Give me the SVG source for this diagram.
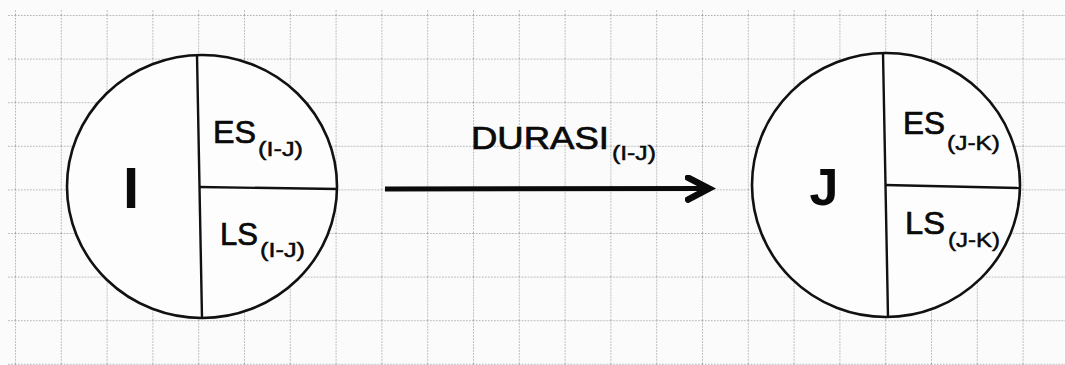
<svg xmlns="http://www.w3.org/2000/svg" width="1065" height="365" viewBox="0 0 1065 365">
<style>
.node-shape{fill:#fdfdfd;stroke:#111;stroke-width:2.6}
.div{stroke:#111;stroke-width:2.4;fill:none}
.lbl{font-family:"Liberation Sans",Arial,sans-serif;fill:#0a0a0a;stroke:#0a0a0a;stroke-width:0.7}
.big{font-size:58px;font-weight:bold;stroke-width:0}
.main{font-size:31px}
.sub{font-size:21px;stroke-width:0.5}
.conn{stroke:#0a0a0a;stroke-width:5;fill:none}
</style>
<defs>
<pattern id="grid" patternUnits="userSpaceOnUse" x="15" y="15" width="45.8" height="43.6">
<line x1="0.5" y1="0" x2="0.5" y2="43.6" stroke="#adadad" stroke-width="1" stroke-dasharray="1.5 1.5"/>
<line x1="0" y1="0.5" x2="45.8" y2="0.5" stroke="#adadad" stroke-width="1" stroke-dasharray="1.5 1.5"/>
</pattern>
<marker id="arrow" markerUnits="userSpaceOnUse" markerWidth="40" markerHeight="40" refX="24" refY="14" orient="auto">
<polyline points="3,3 24,14 3,25" fill="none" stroke="#0a0a0a" stroke-width="6.5" stroke-linecap="round" stroke-linejoin="miter"/>
</marker>
</defs>
<rect x="0" y="0" width="1065" height="365" fill="#fbfbfb"/>
<rect x="7" y="10" width="1058" height="355" fill="url(#grid)"/>

<g id="connectors">
<line class="conn" x1="385" y1="189" x2="709" y2="188.5" marker-end="url(#arrow)"/>
<text class="lbl main" x="471" y="149" textLength="138" lengthAdjust="spacingAndGlyphs">DURASI</text>
<text class="lbl sub" x="612" y="160" textLength="44" lengthAdjust="spacingAndGlyphs">(I-J)</text>
</g>

<g id="node-I">
<ellipse class="node-shape" cx="202" cy="186.5" rx="135" ry="131.5"/>
<line class="div" x1="197" y1="55" x2="202" y2="318"/>
<line class="div" x1="199" y1="187" x2="337" y2="189"/>
<text class="lbl big" x="131" y="208" text-anchor="middle">I</text>
<text class="lbl main" x="213" y="143" textLength="43" lengthAdjust="spacingAndGlyphs">ES</text>
<text class="lbl sub" x="258" y="156" textLength="45" lengthAdjust="spacingAndGlyphs">(I-J)</text>
<text class="lbl main" x="220" y="245" textLength="38" lengthAdjust="spacingAndGlyphs">LS</text>
<text class="lbl sub" x="260" y="257" textLength="45" lengthAdjust="spacingAndGlyphs">(I-J)</text>
</g>

<g id="node-J">
<ellipse class="node-shape" cx="886" cy="185" rx="134" ry="132"/>
<line class="div" x1="883" y1="53" x2="888" y2="317"/>
<line class="div" x1="885" y1="185" x2="1020" y2="188"/>
<text class="lbl big" x="824" y="205" text-anchor="middle" style="font-size:52px">J</text>
<text class="lbl main" x="903" y="134" textLength="42" lengthAdjust="spacingAndGlyphs">ES</text>
<text class="lbl sub" x="947" y="150" textLength="53" lengthAdjust="spacingAndGlyphs">(J-K)</text>
<text class="lbl main" x="905" y="234" textLength="40" lengthAdjust="spacingAndGlyphs">LS</text>
<text class="lbl sub" x="948" y="247" textLength="52" lengthAdjust="spacingAndGlyphs">(J-K)</text>
</g>
</svg>
